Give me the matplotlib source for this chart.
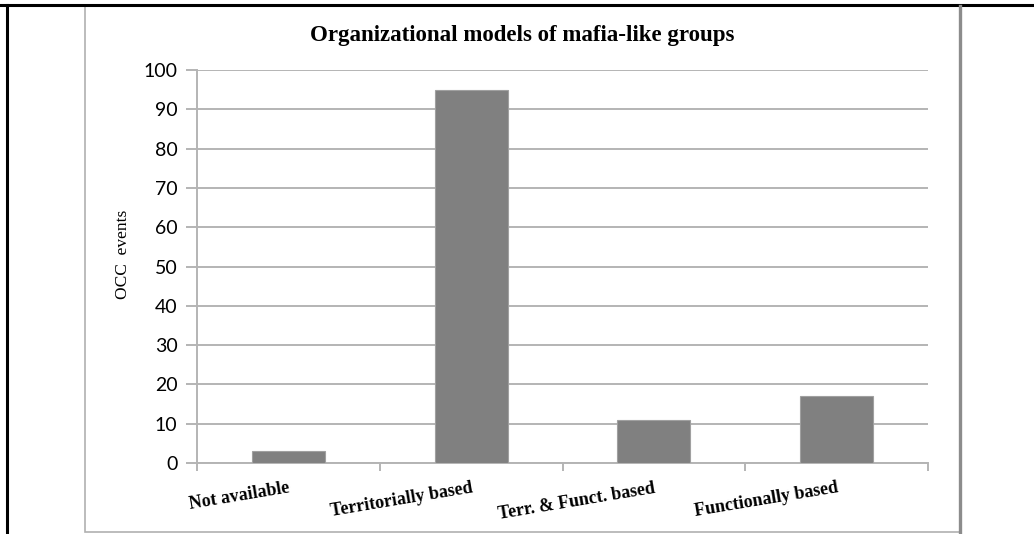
import matplotlib.pyplot as plt
from matplotlib.patches import Rectangle
from matplotlib.lines import Line2D

categories = ['Not available', 'Territorially based', 'Terr. & Funct. based', 'Functionally based']
events = [3, 95, 11, 17]
y_ticks = list(range(0, 101, 10))

W, H = 1034, 534
fig = plt.figure(figsize=(W / 100, H / 100), dpi=100, facecolor='white')

# document table border (black) and chart frame (gray)
fig.add_artist(Line2D([0, 1], [1 - 4.5 / H, 1 - 4.5 / H], color='black', lw=2.2))
fig.add_artist(Line2D([7 / W, 7 / W], [0, 1 - 4.5 / H], color='black', lw=2.2))
fig.add_artist(Rectangle((85 / W, 2 / H), (960 - 85) / W, (528 - 2) / H,
                         fill=False, edgecolor='#b0b0b0', lw=1.2))
fig.add_artist(Line2D([960 / W, 960 / W], [2 / H, 1 - 6 / H], color='#8c8c8c', lw=2.4))

ax = fig.add_axes([197 / W, 1 - 463 / H, (928 - 197) / W, (463 - 70) / H])
x = range(len(categories))
ax.bar(x, events, width=0.4, color='#808080', edgecolor='#a0a0a0', linewidth=0.8, zorder=3)

ax.set_xlim(-0.5, len(categories) - 0.5)
ax.set_ylim(0, 100)
ax.set_yticks(y_ticks)
ax.set_yticklabels([str(v) for v in y_ticks], fontfamily='Lato', fontsize=14)
ax.grid(axis='y', color='#b4b4b4', lw=1.4, zorder=0)
ax.tick_params(axis='y', length=8, width=1.4, color='#b4b4b4', pad=6)

# category boundaries carry the x tick marks
ax.set_xticks([i - 0.5 for i in range(len(categories) + 1)])
ax.set_xticklabels([])
ax.tick_params(axis='x', length=6, width=1.4, color='#b4b4b4', direction='out')

for side in ['top', 'right']:
    ax.spines[side].set_visible(False)
for side in ['left', 'bottom']:
    ax.spines[side].set_color('#b4b4b4')
    ax.spines[side].set_linewidth(1.4)

for i, name in enumerate(categories):
    ax.text(i, -4.2, name, rotation=9.5, rotation_mode='anchor', ha='right', va='top',
            fontfamily='Liberation Serif', fontweight='bold', fontsize=13)

ax.set_ylabel('OCC  events', fontfamily='Liberation Serif', fontsize=12.5)
ax.yaxis.set_label_coords(-0.09, 0.53)

fig.text(522 / W, 1 - 36 / H, 'Organizational models of mafia-like groups',
         ha='center', va='center', fontfamily='Liberation Serif', fontweight='bold', fontsize=16.5)

fig.savefig('out.png', dpi=100, facecolor='white')
